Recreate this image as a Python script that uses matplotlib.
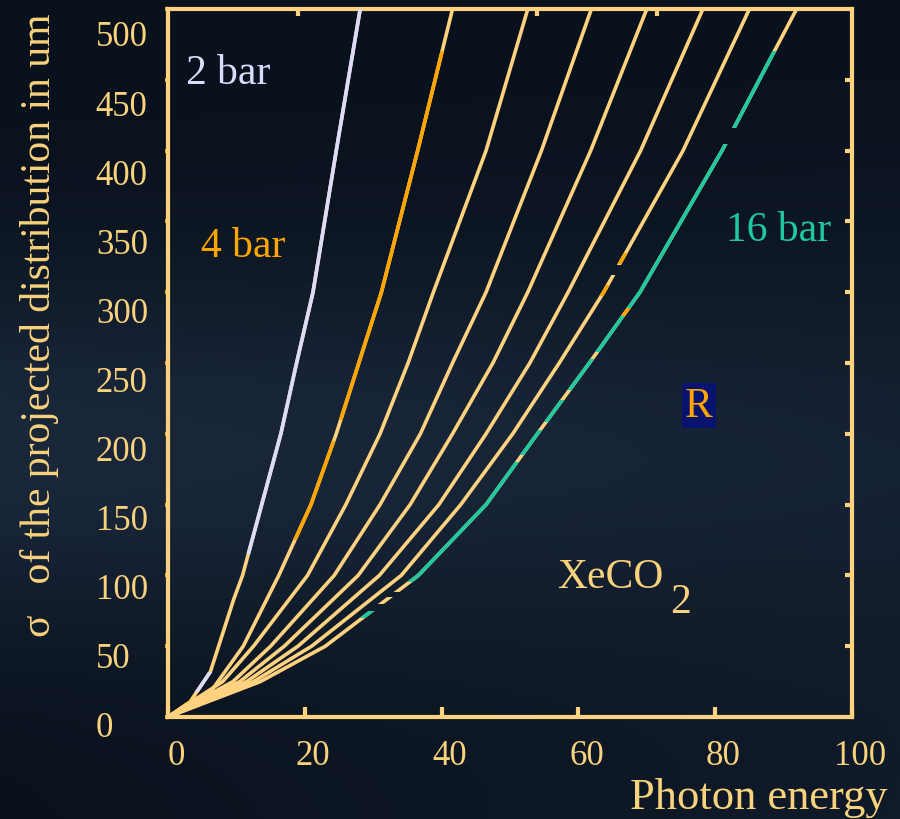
import numpy as np
import matplotlib
matplotlib.use("Agg")
import matplotlib.pyplot as plt
from matplotlib.patches import Rectangle
from matplotlib.transforms import ScaledTranslation
from matplotlib.colors import LinearSegmentedColormap

# sigma of the projected distribution (um) vs photon energy, XeCO2
sig = [0, 25, 50, 100, 150, 200, 250, 300, 400, 500]

sig_2bar = [0, 10.5, 32, 83, 100, 150, 200, 250, 300, 400, 500]
e_2bar = [0, 3.2, 6.2, 9.6, 10.9, 13.7, 16.5, 18.8, 21.2, 24.6, 28.1]
sig_4bar = [0, 10.5, 17.6, 50, 100, 150, 200, 250, 300, 400, 500]
e_4bar = [0, 3.2, 6.2, 11.0, 16.2, 20.9, 24.6, 27.9, 31.2, 36.5, 41.6]
e_6bar = [0, 8.0, 12.5, 20.4, 26.0, 31.0, 35.1, 38.8, 46.5, 52.6]
e_8bar = [0, 9.5, 15.0, 24.3, 31.0, 36.9, 41.6, 46.5, 54.6, 61.9]
e_10bar = [0, 10.5, 17.0, 27.8, 35.4, 41.6, 47.5, 52.6, 61.8, 70.0]
e_12bar = [0, 11.5, 19.0, 30.9, 39.6, 46.5, 52.9, 58.5, 69.1, 78.2]
e_14bar = [0, 12.5, 21.0, 34.1, 42.8, 50.4, 57.2, 63.7, 75.3, 85.0]
e_16bar = [0, 13.5, 23.0, 36.6, 46.5, 54.0, 61.6, 69.0, 81.0, 91.9]

xticks = [0, 20, 40, 60, 80, 100]
yticks = [0, 50, 100, 150, 200, 250, 300, 350, 400, 450, 500]

TAN = "#ffd27f"
ORANGE = "#ffa500"
LAV = "#dcdcfa"
GREEN = "#1ec9a0"
TXT = "#f8d27c"
LW = 2.6

plt.rcParams["font.family"] = ["Liberation Serif", "DejaVu Serif"]

fig = plt.figure(figsize=(9, 8.2), dpi=100)

# dark backdrop
bgax = fig.add_axes([0, 0, 1, 1])
bgax.set_axis_off()
yy, xx = np.mgrid[0:1:200j, 0:1:200j]
field = 0.5 * np.exp(-((yy - 0.55) ** 2) / 0.05) * (1 - 0.5 * xx) + 0.2 * xx * yy
cmap = LinearSegmentedColormap.from_list("bg", ["#09111c", "#172436", "#223246"])
bgax.imshow(field, cmap=cmap, aspect="auto", extent=[0, 1, 0, 1], vmin=0, vmax=0.8)

ax = fig.add_axes([168 / 900, 1 - 718 / 820, 684 / 900, 708 / 820])
ax.set_facecolor("none")
ax.set_xlim(0, 100)
ax.set_ylim(0, 500)


def band(x, y, c, y0, y1):
    ln, = ax.plot(x, y, color=c, lw=LW, solid_capstyle="butt", zorder=3)
    r = Rectangle((-10, y0), 130, y1 - y0, transform=ax.transData)
    ln.set_clip_path(r)


def curve(x, y, pieces, gaps=()):
    # tan base line, minus the gaps
    edges = [0] + [v for g in gaps for v in g] + [510]
    for a, b in zip(edges[::2], edges[1::2]):
        band(x, y, TAN, a, b)
    for y0, y1, c in pieces:
        band(x, y, c, y0, y1)


curve(e_2bar, sig_2bar, [(17.6, 32, LAV), (115, 500, LAV)])
curve(e_4bar, sig_4bar, [(8, 17.6, ORANGE), (125, 195, ORANGE), (210, 470, ORANGE)])
curve(e_6bar, sig, [])
curve(e_8bar, sig, [])
curve(e_10bar, sig, [])
curve(e_12bar, sig, [])
curve(e_14bar, sig, [(297, 305, ORANGE), (320, 328, ORANGE)], gaps=[(312, 319)])
curve(e_16bar, sig,
      [(70, 75, GREEN), (95, 180, GREEN), (185, 203, GREEN), (208, 224, GREEN),
       (231, 253, GREEN), (258, 283, GREEN), (283, 289, ORANGE), (289, 405, GREEN),
       (416, 470, GREEN)],
      gaps=[(75, 80), (85, 88), (405, 416)])

for s in ax.spines.values():
    s.set_color(TAN)
    s.set_linewidth(3)

ax.set_xticks(xticks)
ax.set_xticklabels([str(v) for v in xticks])
ax.set_yticks(yticks)
ax.set_yticklabels([str(v) for v in yticks])
ax.tick_params(axis="x", direction="in", length=7, width=3, color=TAN,
               labelcolor=TXT, labelsize=25, pad=16)
ax.tick_params(axis="y", direction="out", length=2, width=3, color=ORANGE,
               labelcolor=TXT, labelsize=25, pad=50)
for lab in ax.get_yticklabels():
    lab.set_horizontalalignment("left")
for v, lab in zip(yticks, ax.get_yticklabels()):
    lab.set_transform(lab.get_transform() +
                      ScaledTranslation(0, -(7 + 17 * v / 500) / 100, fig.dpi_scale_trans))
for lab in ax.get_xticklabels():
    lab.set_transform(lab.get_transform() + ScaledTranslation(0.08, 0, fig.dpi_scale_trans))

right = ax.secondary_yaxis("right")
right.set_yticks(yticks[1:-1])
right.tick_params(direction="in", length=5, width=3, color=TAN, labelright=False)
right.spines["right"].set_visible(False)
top = ax.secondary_xaxis("top")
top.set_xticks([19, 54, 71.5])
top.tick_params(direction="in", length=5, width=3, color=TAN, labeltop=False)
top.spines["top"].set_visible(False)

ax.set_ylabel("σ   of the projected distribution in um", fontsize=30, color=TXT)
ax.yaxis.set_label_coords(-0.16, 0.555)
ax.set_xlabel("Photon energy", fontsize=32, color=TXT, ha="right", va="top")
ax.xaxis.set_label_coords(1.0526, -0.085)

ax.text(8.8, 455, "2 bar", color=LAV, fontsize=30, ha="center", va="center")
ax.text(11.0, 333, "4 bar", color=ORANGE, fontsize=30, ha="center", va="center")
ax.text(89.3, 344, "16 bar", color=GREEN, fontsize=30, ha="center", va="center")
ax.text(77.6, 220, "R", color=ORANGE, fontsize=30, ha="center", va="center",
        bbox=dict(boxstyle="square,pad=0.08", fc="#07136e", ec="none"))
ax.text(56.9, 91.5, "XeCO", color=TXT, fontsize=30, ha="left", va="baseline")
ax.text(73.4, 74, "2", color=TXT, fontsize=30, ha="left", va="baseline")

fig.savefig("out.png", dpi=100, facecolor="#0e1826")
